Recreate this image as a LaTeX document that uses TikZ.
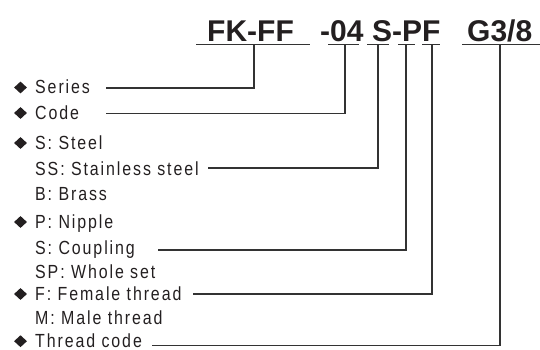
\documentclass[tikz,border=0pt]{standalone}
\usepackage{fontspec}
\setmainfont{Liberation Sans}[FakeStretch=0.84,LetterSpace=10]
\newfontfamily\titlefont{Liberation Sans}
\usetikzlibrary{shapes.geometric}
\definecolor{ink}{HTML}{231F20}
\definecolor{ln}{HTML}{333333}
\begin{document}
\begin{tikzpicture}[x=1pt,y=-1pt,
  title/.style={anchor=base west,inner sep=0pt,font=\titlefont\fontsize{30}{30}\selectfont\bfseries,text=ink},
  item/.style={anchor=base west,inner sep=0pt,font=\fontsize{19}{19}\selectfont,text=ink},
  bullet/.style={diamond,fill=ink,inner sep=0pt,minimum width=13pt,minimum height=12pt},
  ul/.style={draw=ln,line width=1.4pt},
  conn/.style={draw=ln,line width=1.3pt,line join=miter}]
\useasboundingbox (0,0) rectangle (540,350);
% title pieces
\node[title] (t1) at (207,42) {FK-FF};
\node[title] (t2) at (320,42) {-04};
\node[title] (t3) at (372,42) {S-PF};
\node[title] (t4) at (467,42) {G3/8};
% underlines
\draw[ul] (196,44.5) -- (310,44.5);
\draw[ul] (328,44.5) -- (359,44.5);
\draw[ul] (367,44.5) -- (389,44.5);
\draw[ul] (398,44.5) -- (415,44.5);
\draw[ul] (422,44.5) -- (440,44.5);
\draw[ul] (462,44.5) -- (540,44.5);
% underline stubs
\coordinate (u1) at (254,44.5);
\coordinate (u2) at (345,44.5);
\coordinate (u3) at (378,44.5);
\coordinate (u4) at (406,44.5);
\coordinate (u5) at (432,44.5);
\coordinate (u6) at (500,44.5);
% items
\node[item] (r1) at (35,94) {Series};
\node[item] (r2) at (35,119.5) {Code};
\node[item] (r3) at (35,149.5) {S: Steel};
\node[item] (r4) at (35,175.5) {SS: Stainless steel};
\node[item] (r5) at (35,200) {B: Brass};
\node[item] (r6) at (35,228.5) {P: Nipple};
\node[item] (r7) at (35,254) {S: Coupling};
\node[item] (r8) at (35,278.5) {SP: Whole set};
\node[item] (r9) at (35,300.5) {F: Female thread};
\node[item] (r10) at (35,324.5) {M: Male thread};
\node[item] (r11) at (35,347) {Thread code};
% bullets
\node[bullet] (b1) at (20.5,87.5) {};
\node[bullet] (b2) at (20.5,113) {};
\node[bullet] (b3) at (20.5,143) {};
\node[bullet] (b4) at (20.5,222) {};
\node[bullet] (b5) at (20.5,294) {};
\node[bullet] (b6) at (20.5,341.2) {};
% line starts
\coordinate (s1) at (106,88);
\coordinate (s2) at (106,113.5);
\coordinate (s3) at (208,168);
\coordinate (s4) at (158,250);
\coordinate (s5) at (193,294);
\coordinate (s6) at (152,345.5);
% connectors
\draw[conn] (u1) |- (s1);
\draw[conn] (u2) |- (s2);
\draw[conn] (u3) |- (s3);
\draw[conn] (u4) |- (s4);
\draw[conn] (u5) |- (s5);
\draw[conn] (u6) |- (s6);
\end{tikzpicture}
\end{document}
